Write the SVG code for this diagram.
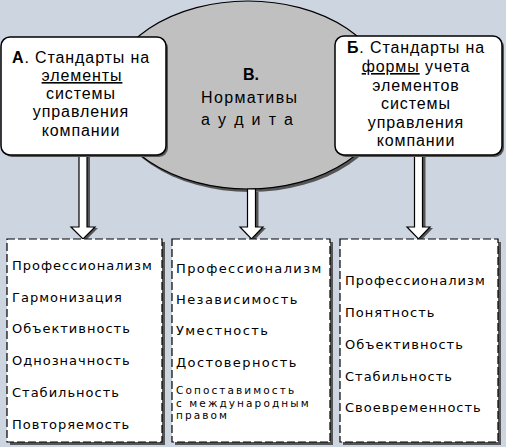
<svg xmlns="http://www.w3.org/2000/svg" width="506" height="447" viewBox="0 0 506 447">
<defs>
<style>
.sh{fill:#555}
.box{fill:#fff;stroke:#000;stroke-width:1.5}
.dash{fill:#fff;stroke:#000;stroke-width:1.2;stroke-dasharray:8 3}
.arr{fill:#fff;stroke:#000;stroke-width:1.2;stroke-linejoin:miter}
.t{font-family:"Liberation Sans",Arial,sans-serif;font-size:16px;fill:#000;text-anchor:middle;letter-spacing:0.9px}
.e{font-family:"Liberation Sans",Arial,sans-serif;font-size:16px;fill:#000;text-anchor:middle}
.l{font-family:"DejaVu Sans",sans-serif;font-size:13px;fill:#000;letter-spacing:1px}
.m{letter-spacing:1.4px}
.s{font-size:10.5px;letter-spacing:2.1px}
.b{font-weight:bold}
</style>
</defs>
<rect width="506" height="447" fill="#CDD5E1"/>

<g id="node-audit">
<ellipse cx="250" cy="98" rx="140" ry="94" class="sh"/>
<ellipse cx="248" cy="95" rx="140" ry="94" fill="#C0C0C0" stroke="#000" stroke-width="1.2"/>
<text class="e b" x="251" y="80">В.</text>
<text class="e" x="249" y="103" textLength="96" lengthAdjust="spacing">Нормативы</text>
<text class="e" x="247" y="125" textLength="92" lengthAdjust="spacing">а у д и т а</text>
</g>

<g id="connectors">
<polygon class="sh" points="82,150 90,150 90,228 98,228 86,240 75,228 82,228"/>
<polygon class="arr" points="79,150 87,150 87,227 95,227 83,239 71,227 79,227"/>
<polygon class="sh" points="250.5,192 258.5,192 258.5,228 266,228 254.5,240 243,228 250.5,228"/>
<polygon class="arr" points="247.5,189 255.5,189 255.5,227 263,227 251.5,239 240,227 247.5,227"/>
<polygon class="sh" points="417.5,150 425.5,150 425.5,228 433,228 421.5,240 410,228 417.5,228"/>
<polygon class="arr" points="414.5,150 422.5,150 422.5,227 430,227 418.5,239 407,227 414.5,227"/>
</g>

<g id="node-a">
<rect x="3" y="39" width="165" height="118" rx="9" class="sh"/>
<rect x="1" y="37" width="165" height="118" rx="9" class="box"/>
<text class="t" x="81" y="63"><tspan class="b">А</tspan>. Стандарты на</text>
<text class="t" x="82" y="81"><tspan text-decoration="underline">элементы</tspan></text>
<text class="t" x="81" y="99">системы</text>
<text class="t" x="81" y="117">управления</text>
<text class="t" x="81" y="136">компании</text>
</g>

<g id="node-b">
<rect x="337" y="38" width="167" height="119" rx="9" class="sh"/>
<rect x="335" y="36" width="167" height="119" rx="9" class="box"/>
<text class="t" x="416" y="53"><tspan class="b">Б</tspan>. Стандарты на</text>
<text class="t" x="416" y="72"><tspan text-decoration="underline">формы</tspan> учета</text>
<text class="t" x="416" y="91">элементов</text>
<text class="t" x="416" y="109">системы</text>
<text class="t" x="416" y="128">управления</text>
<text class="t" x="416" y="146">компании</text>
</g>

<g id="list-a">
<rect x="10" y="242" width="155" height="203" class="sh"/>
<rect x="7" y="239" width="155" height="203" class="dash"/>
<text class="l" x="12" y="270">Профессионализм</text>
<text class="l" x="12" y="302">Гармонизация</text>
<text class="l" x="12" y="333">Объективность</text>
<text class="l" x="12" y="365">Однозначность</text>
<text class="l" x="12" y="397">Стабильность</text>
<text class="l" x="12" y="429">Повторяемость</text>
</g>

<g id="list-audit">
<rect x="175" y="242" width="158" height="203" class="sh"/>
<rect x="172" y="239" width="158" height="203" class="dash"/>
<text class="l m" x="176" y="273">Профессионализм</text>
<text class="l m" x="176" y="304">Независимость</text>
<text class="l m" x="176" y="335">Уместность</text>
<text class="l m" x="176" y="367">Достоверность</text>
<text class="l s" x="176" y="394">Сопоставимость</text>
<text class="l s" x="176" y="406.5">с международным</text>
<text class="l s" x="176" y="419">правом</text>
</g>

<g id="list-b">
<rect x="343" y="242" width="158" height="203" class="sh"/>
<rect x="340" y="239" width="158" height="203" class="dash"/>
<text class="l" x="345" y="285">Профессионализм</text>
<text class="l" x="345" y="317">Понятность</text>
<text class="l" x="345" y="349">Объективность</text>
<text class="l" x="345" y="381">Стабильность</text>
<text class="l" x="345" y="412">Своевременность</text>
</g>
</svg>
